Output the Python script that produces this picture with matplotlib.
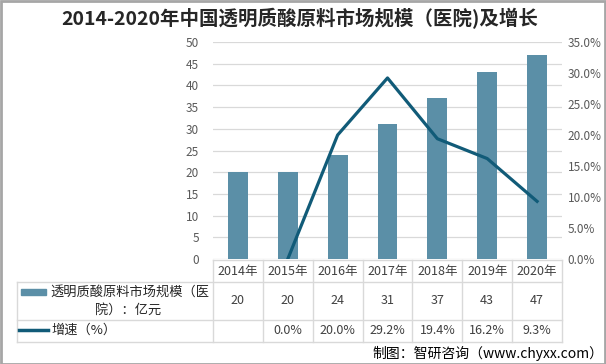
import matplotlib.pyplot as plt
import matplotlib.transforms as mtransforms
from matplotlib.lines import Line2D
from matplotlib.patches import Rectangle
import numpy as np

plt.rcParams['font.family'] = ['Noto Sans CJK SC', 'DejaVu Sans']

# data
years = ['2014年', '2015年', '2016年', '2017年', '2018年', '2019年', '2020年']
market = [20, 20, 24, 31, 37, 43, 47]
growth = [None, 0.0, 20.0, 29.2, 19.4, 16.2, 9.3]
growth_labels = ['', '0.0%', '20.0%', '29.2%', '19.4%', '16.2%', '9.3%']

bar_color = '#5b8fa7'
line_color = '#115b78'
grid_color = '#d9d9d9'
tick_color = '#595959'

W, H = 606, 364
fig = plt.figure(figsize=(W / 100, H / 100), dpi=100)

def fy(py):
    # pixel row from top -> figure fraction
    return 1 - py / H

ax = fig.add_axes([213 / W, fy(259), 349 / W, (259 - 42) / H])
x = np.arange(len(years))

ax.bar(x, market, width=0.4, color=bar_color, zorder=2)
ax.set_xlim(-0.5, len(years) - 0.5)
ax.set_ylim(0, 50)
ax.set_yticks(np.arange(0, 51, 5))
ax.set_xticks([])
ax.grid(axis='y', color=grid_color, linewidth=0.9, zorder=0)
for s in ax.spines.values():
    s.set_visible(False)
ax.tick_params(axis='y', length=0, labelsize=8.5, labelcolor=tick_color, pad=10)

ax2 = ax.twinx()
gx = [i for i, g in enumerate(growth) if g is not None]
gy = [g for g in growth if g is not None]
ax2.plot(gx, gy, color=line_color, linewidth=2.3, zorder=3)
ax2.set_ylim(0, 35)
ax2.set_yticks(np.arange(0, 36, 5))
ax2.set_yticklabels(['%.1f%%' % v for v in np.arange(0, 36, 5)])
for s in ax2.spines.values():
    s.set_visible(False)
ax2.tick_params(axis='y', length=0, labelsize=8.5, labelcolor=tick_color, pad=4)

# title
fig.text(0.495, fy(19), '2014-2020年中国透明质酸原料市场规模（医院)及增长',
         ha='center', va='center', fontsize=14, fontweight='bold', color='#262626')

# data table under the axes
tr = mtransforms.blended_transform_factory(ax.transData, fig.transFigure)
rows = [260, 282, 320, 342]
for i in range(len(years) + 1):
    fig.add_artist(Line2D([i - 0.5, i - 0.5], [fy(rows[0]), fy(rows[-1])],
                          transform=tr, color=grid_color, linewidth=1))
fig.add_artist(Line2D([-0.5, len(years) - 0.5], [fy(rows[0])] * 2,
                      transform=tr, color=grid_color, linewidth=1))
for r in rows[1:]:
    fig.add_artist(Line2D([17 / W, 562 / W], [fy(r)] * 2,
                          color=grid_color, linewidth=1))
fig.add_artist(Line2D([17 / W, 17 / W], [fy(rows[1]), fy(rows[-1])],
                      color=grid_color, linewidth=1))

for i, yr in enumerate(years):
    fig.text(i, fy(271), yr, transform=tr, ha='center', va='center',
             fontsize=9, color='#404040')
    fig.text(i, fy(301), str(market[i]), transform=tr, ha='center', va='center',
             fontsize=9, color='#404040')
    fig.text(i, fy(331), growth_labels[i], transform=tr, ha='center', va='center',
             fontsize=9, color='#404040')

# legend keys in the table
fig.add_artist(Rectangle((21 / W, fy(295)), 25 / W, 6 / H, color=bar_color))
fig.text(130 / W, fy(292), '透明质酸原料市场规模（医', ha='center', va='center',
         fontsize=9.5, color='#262626')
fig.text(128 / W, fy(310), '院）：亿元', ha='center', va='center',
         fontsize=9.5, color='#262626')
fig.add_artist(Line2D([19 / W, 48 / W], [fy(330)] * 2, color=line_color, linewidth=2.5))
fig.text(51 / W, fy(330), '增速（%）', ha='left', va='center',
         fontsize=9.5, color='#262626')

# source
fig.text(603 / W, fy(353), '制图：智研咨询（www.chyxx.com）', ha='right', va='center',
         fontsize=10, color='#000000')

# outer frame
fig.add_artist(Rectangle((0.5 / W, 0.5 / H), (W - 1.5) / W, (H - 1.5) / H,
                         fill=False, edgecolor='#a6a6a6', linewidth=2))

fig.savefig('out.png', dpi=100)
